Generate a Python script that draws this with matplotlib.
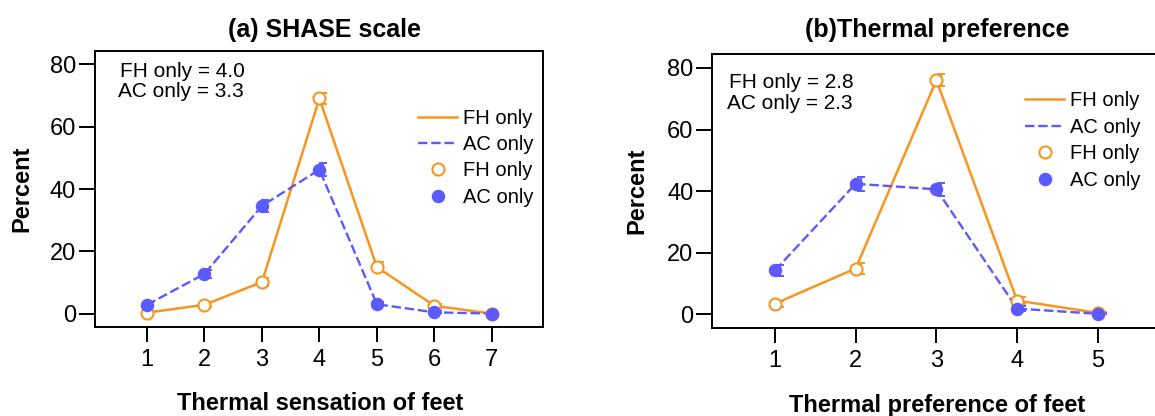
import matplotlib
matplotlib.use("Agg")
import matplotlib.pyplot as plt
from matplotlib.lines import Line2D

plt.rcParams['font.family'] = ['Liberation Sans', 'DejaVu Sans']

# data
sensation_x = [1, 2, 3, 4, 5, 6, 7]
sensation_fh = [0.4, 2.9, 10.2, 69.0, 15.0, 2.6, 0.1]
sensation_ac = [2.9, 12.8, 34.6, 46.2, 3.1, 0.5, 0.1]
sensation_fh_err = [0.5, 0.8, 1.3, 1.9, 1.5, 0.7, 0.2]
sensation_ac_err = [0.8, 1.4, 1.9, 2.0, 0.7, 0.3, 0.2]

preference_x = [1, 2, 3, 4, 5]
preference_fh = [3.5, 14.9, 76.0, 4.5, 0.5]
preference_ac = [14.3, 42.4, 40.6, 1.9, 0.2]
preference_fh_err = [1.0, 1.8, 1.9, 1.1, 0.4]
preference_ac_err = [1.7, 2.2, 2.2, 0.8, 0.2]

orange = '#F7961F'
blue = '#5A5AFF'
W, H = 1155, 416

fig = plt.figure(figsize=(W / 100, H / 100), dpi=100)


def px_axes(x0, top, w, bottom):
    return fig.add_axes([x0 / W, 1 - bottom / H, w / W, (bottom - top) / H])


def draw_panel(ax, x, fh, ac, fh_err, ac_err, xlim, ylim):
    off = 0.06
    ax.errorbar([v + off for v in x], fh, yerr=fh_err, fmt='none',
                ecolor=orange, elinewidth=1.4, capsize=3, capthick=1.4, zorder=2)
    ax.errorbar([v + off for v in x], ac, yerr=ac_err, fmt='none',
                ecolor=blue, elinewidth=1.4, capsize=3, capthick=1.4, zorder=2)
    ax.plot(x, fh, '-', color=orange, lw=1.8, zorder=3)
    ax.plot(x, ac, '--', color=blue, lw=1.7, dashes=(4, 1.6), zorder=3)
    ax.plot(x, fh, 'o', mfc='white', mec=orange, mew=1.5, ms=8.7, zorder=4)
    ax.plot(x, ac, 'o', color=blue, ms=8.7, zorder=5)

    ax.set_xlim(*xlim)
    ax.set_ylim(*ylim)
    ax.set_xticks(x)
    ax.set_yticks([0, 20, 40, 60, 80])
    for s in ax.spines.values():
        s.set_linewidth(1.4)
    ax.tick_params(axis='y', direction='out', length=11.5, width=1.4,
                   labelsize=17, pad=2)
    ax.tick_params(axis='x', direction='out', length=11, width=1.4,
                   labelsize=17, pad=5)

    handles = [
        Line2D([], [], color=orange, lw=1.8),
        Line2D([], [], color=blue, lw=1.7, ls='--', dashes=(4, 1.6)),
        Line2D([], [], ls='none', marker='o', mfc='white', mec=orange, mew=1.5, ms=8.7),
        Line2D([], [], ls='none', marker='o', color=blue, ms=8.7),
    ]
    return handles


labels = ['FH only', 'AC only', 'FH only', 'AC only']

# (a) SHASE scale
ax1 = px_axes(95, 51, 448, 327)
h1 = draw_panel(ax1, sensation_x, sensation_fh, sensation_ac,
                sensation_fh_err, sensation_ac_err, (0.096, 7.89), (-4.2, 84.2))
ax1.legend(h1, labels, loc='upper left', bbox_to_anchor=(0.721, 0.79),
           frameon=False, fontsize=14.5, borderpad=0, borderaxespad=0,
           handlelength=1.95, handletextpad=0.3, labelspacing=0.36)

# (b) Thermal preference
ax2 = px_axes(712, 54, 448, 328)
h2 = draw_panel(ax2, preference_x, preference_fh, preference_ac,
                preference_fh_err, preference_ac_err, (0.22, 5.77), (-4.4, 84.5))
ax2.legend(h2, labels, loc='upper left', bbox_to_anchor=(0.699, 0.865),
           frameon=False, fontsize=14.5, borderpad=0, borderaxespad=0,
           handlelength=1.95, handletextpad=0.3, labelspacing=0.38)

# titles and axis labels
fig.text(324 / W, 1 - 37 / H, '(a) SHASE scale', ha='center', va='baseline',
         fontsize=18, fontweight='bold')
fig.text(937 / W, 1 - 37 / H, '(b)Thermal preference', ha='center', va='baseline',
         fontsize=18, fontweight='bold')
fig.text(320 / W, 1 - 410 / H, 'Thermal sensation of feet', ha='center',
         va='baseline', fontsize=17, fontweight='bold')
fig.text(937 / W, 1 - 412 / H, 'Thermal preference of feet', ha='center',
         va='baseline', fontsize=17, fontweight='bold')
fig.text(22 / W, 1 - 189 / H, 'Percent', rotation=90, ha='center', va='center',
         fontsize=17, fontweight='bold')
fig.text(637 / W, 1 - 191 / H, 'Percent', rotation=90, ha='center', va='center',
         fontsize=17, fontweight='bold')

# mean values
fig.text(120 / W, 1 - 77 / H, 'FH only = 4.0', va='baseline', fontsize=15)
fig.text(118 / W, 1 - 97 / H, 'AC only = 3.3', va='baseline', fontsize=15)
fig.text(729 / W, 1 - 88 / H, 'FH only = 2.8', va='baseline', fontsize=15)
fig.text(727 / W, 1 - 109 / H, 'AC only = 2.3', va='baseline', fontsize=15)

fig.savefig('out.png', dpi=100)
